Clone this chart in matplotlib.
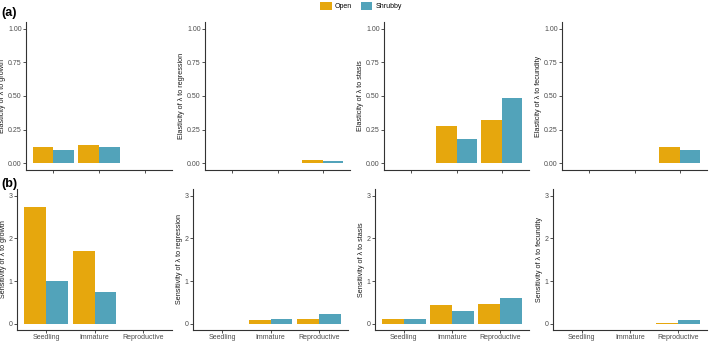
import numpy as np
from matplotlib import pyplot as plt
from matplotlib.patches import Patch

plt.rcParams['font.family'] = ['Liberation Sans', 'DejaVu Sans']

stages = ["Seedling", "Immature", "Reproductive"]
habitats = ["Open", "Shrubby"]
colors = ["#E6A70D", "#52A3BA"]

# elasticities (row a), open / shrubby per stage
elas_growth_open = [0.12, 0.135, 0.0]
elas_growth_shrub = [0.097, 0.118, 0.0]
elas_regr_open = [0.0, 0.0, 0.022]
elas_regr_shrub = [0.0, 0.0, 0.018]
elas_stasis_open = [0.0, 0.278, 0.32]
elas_stasis_shrub = [0.0, 0.178, 0.488]
elas_fec_open = [0.0, 0.0, 0.118]
elas_fec_shrub = [0.0, 0.0, 0.097]

# sensitivities (row b)
sens_growth_open = [2.74, 1.71, 0.0]
sens_growth_shrub = [1.01, 0.75, 0.0]
sens_regr_open = [0.0, 0.08, 0.11]
sens_regr_shrub = [0.0, 0.10, 0.23]
sens_stasis_open = [0.10, 0.43, 0.46]
sens_stasis_shrub = [0.10, 0.29, 0.61]
sens_fec_open = [0.0, 0.0, 0.02]
sens_fec_shrub = [0.0, 0.0, 0.08]

top_panels = [
    ("Elasticity of \u03bb to growth", elas_growth_open, elas_growth_shrub),
    ("Elasticity of \u03bb to regression", elas_regr_open, elas_regr_shrub),
    ("Elasticity of \u03bb to stasis", elas_stasis_open, elas_stasis_shrub),
    ("Elasticity of \u03bb to fecundity", elas_fec_open, elas_fec_shrub),
]
bottom_panels = [
    ("Sensitivity of \u03bb to growth", sens_growth_open, sens_growth_shrub),
    ("Sensitivity of \u03bb to regression", sens_regr_open, sens_regr_shrub),
    ("Sensitivity of \u03bb to stasis", sens_stasis_open, sens_stasis_shrub),
    ("Sensitivity of \u03bb to fecundity", sens_fec_open, sens_fec_shrub),
]

W, H = 709, 342
fig = plt.figure(figsize=(W / 100, H / 100), dpi=100)

top_x = [(26, 172), (205, 350), (384, 529), (562, 707)]
bot_x = [(17, 172), (193, 348), (375, 529), (553, 707)]

x = np.arange(1, len(stages) + 1)
bw = 0.45


def draw(ax, label, vopen, vshrub, ylim, yticks, yticklabels, show_x):
    ax.bar(x - bw / 2, vopen, width=bw, color=colors[0], edgecolor="none")
    ax.bar(x + bw / 2, vshrub, width=bw, color=colors[1], edgecolor="none")
    ax.set_xlim(0.4, 3.6)
    ax.set_ylim(*ylim)
    ax.set_yticks(yticks)
    ax.set_yticklabels(yticklabels)
    ax.set_xticks(x)
    ax.set_xticklabels(stages if show_x else [])
    for s in ["top", "right"]:
        ax.spines[s].set_visible(False)
    for s in ["left", "bottom"]:
        ax.spines[s].set_color("#333333")
        ax.spines[s].set_linewidth(0.8)
    ax.tick_params(labelsize=5, colors="#333333", labelcolor="#4D4D4D",
                   length=2, width=0.6, pad=1)
    ax.set_ylabel(label, fontsize=5.2, color="#1A1A1A", labelpad=1.5)


for (l, r), (lab, o, s) in zip(top_x, top_panels):
    ax = fig.add_axes([l / W, 1 - 170 / H, (r - l) / W, 148 / H])
    draw(ax, lab, o, s, (-0.05, 1.05), [0, 0.25, 0.5, 0.75, 1.0],
         ["0.00", "0.25", "0.50", "0.75", "1.00"], False)

for (l, r), (lab, o, s) in zip(bot_x, bottom_panels):
    ax = fig.add_axes([l / W, 1 - 330 / H, (r - l) / W, 141 / H])
    draw(ax, lab, o, s, (-0.15, 3.16), [0, 1, 2, 3], ["0", "1", "2", "3"], True)

fig.text(1 / W, 1 - 13 / H, "(a)", fontsize=9, fontweight="bold", va="center")
fig.text(1 / W, 1 - 184 / H, "(b)", fontsize=9, fontweight="bold", va="center")

handles = [Patch(facecolor=c, edgecolor="none") for c in colors]
fig.legend(handles, habitats, loc="center", bbox_to_anchor=(361 / W, 1 - 6 / H),
           ncol=2, frameon=False, fontsize=5, handlelength=1.6, handleheight=1.6,
           columnspacing=1.2, handletextpad=0.5, borderpad=0)

fig.savefig("out.png", dpi=100, facecolor="white")
